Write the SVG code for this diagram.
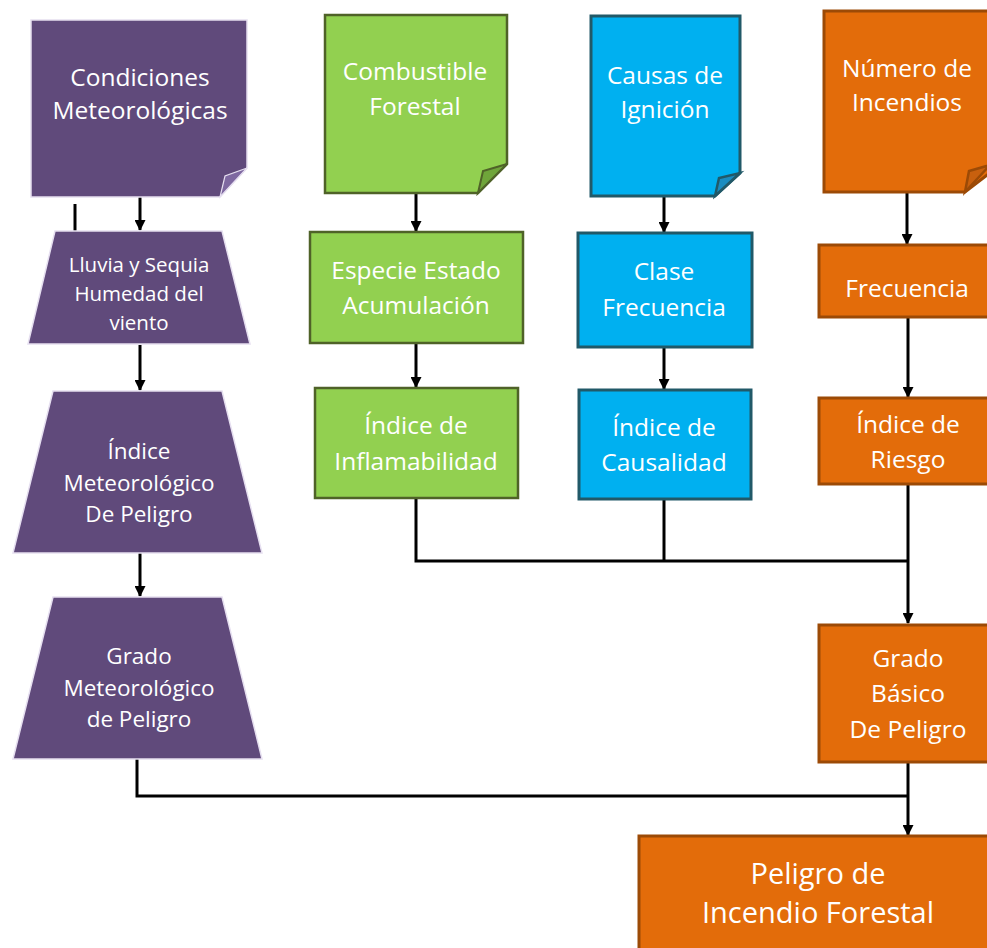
<svg xmlns="http://www.w3.org/2000/svg" width="987" height="948" viewBox="0 0 987 948">
<defs>
<marker id="ah" markerWidth="11" markerHeight="11" refX="10" refY="5.5" orient="auto" markerUnits="userSpaceOnUse" viewBox="0 0 11 11">
<path d="M0,0 L11,5.5 L0,11 Z" fill="#000"/>
</marker>
<style>
.t{font-family:"Open Sans","Liberation Sans",sans-serif;fill:#fff;text-anchor:middle}
.pu{fill:#604A7B;stroke:#E6DFF0;stroke-width:1.5}
.puf{fill:#7E68A0;stroke:#E6DFF0;stroke-width:1.2}
.gr{fill:#92D050;stroke:#4F6228;stroke-width:2.5}
.grf{fill:#6FA53A;stroke:#4F6228;stroke-width:2}
.bl{fill:#00B0F0;stroke:#215968;stroke-width:3}
.blf{fill:#1A8CC0;stroke:#215968;stroke-width:2.5}
.or{fill:#E36C0A;stroke:#9C4A06;stroke-width:3}
.orf{fill:#C8600E;stroke:#9C4A06;stroke-width:2.5}
.c{fill:none;stroke:#000;stroke-width:3}
</style>
</defs>
<rect width="987" height="948" fill="#fff"/>

<g id="connectors">
<line class="c" x1="75" y1="204" x2="75" y2="231"/>
<line class="c" x1="140" y1="197" x2="140" y2="230" marker-end="url(#ah)"/>
<line class="c" x1="140" y1="345" x2="140" y2="390" marker-end="url(#ah)"/>
<line class="c" x1="140" y1="553" x2="140" y2="596" marker-end="url(#ah)"/>
<line class="c" x1="416" y1="193" x2="416" y2="231" marker-end="url(#ah)"/>
<line class="c" x1="416" y1="343" x2="416" y2="387" marker-end="url(#ah)"/>
<line class="c" x1="664" y1="197" x2="664" y2="232" marker-end="url(#ah)"/>
<line class="c" x1="664" y1="347" x2="664" y2="389" marker-end="url(#ah)"/>
<line class="c" x1="907" y1="192" x2="907" y2="244" marker-end="url(#ah)"/>
<line class="c" x1="908" y1="317" x2="908" y2="397" marker-end="url(#ah)"/>
<line class="c" x1="908" y1="484" x2="908" y2="623" marker-end="url(#ah)"/>
<polyline class="c" points="416,498 416,561 908,561"/>
<line class="c" x1="664" y1="499" x2="664" y2="561"/>
<line class="c" x1="908" y1="762" x2="908" y2="835" marker-end="url(#ah)"/>
<polyline class="c" points="137,759 137,796 908,796"/>
</g>

<g id="condiciones">
<path class="pu" d="M31,20 H247 V168 L220,197 H31 Z"/>
<path class="puf" d="M220,197 L225,176 L247,168 Z"/>
<text class="t" font-size="24.5" x="140" y="86">Condiciones</text>
<text class="t" font-size="24.5" x="140" y="119">Meteorológicas</text>
</g>

<g id="lluvia">
<path class="pu" d="M55,231 H222 L250,344 H28 Z"/>
<text class="t" font-size="20.5" x="139" y="272">Lluvia y Sequia</text>
<text class="t" font-size="20.5" x="139" y="301">Humedad del</text>
<text class="t" font-size="20.5" x="139" y="330">viento</text>
</g>

<g id="indice-meteo">
<path class="pu" d="M53,391 H222 L262,553 H13 Z"/>
<text class="t" font-size="22.5" x="139" y="459">Índice</text>
<text class="t" font-size="22.5" x="139" y="491">Meteorológico</text>
<text class="t" font-size="22.5" x="139" y="522">De Peligro</text>
</g>

<g id="grado-meteo">
<path class="pu" d="M53,597 H222 L262,759 H13 Z"/>
<text class="t" font-size="22.5" x="139" y="664">Grado</text>
<text class="t" font-size="22.5" x="139" y="696">Meteorológico</text>
<text class="t" font-size="22.5" x="139" y="727">de Peligro</text>
</g>

<g id="combustible">
<path class="gr" d="M325,15 H507 V164 L478,193 H325 Z"/>
<path class="grf" d="M478,193 L483,171 L507,164 Z"/>
<text class="t" font-size="24.5" x="415" y="80">Combustible</text>
<text class="t" font-size="24.5" x="415" y="115">Forestal</text>
</g>

<g id="especie">
<rect class="gr" x="310" y="232" width="213" height="111"/>
<text class="t" font-size="24.5" x="416" y="279">Especie Estado</text>
<text class="t" font-size="24.5" x="416" y="314">Acumulación</text>
</g>

<g id="inflamabilidad">
<rect class="gr" x="315" y="388" width="203" height="110"/>
<text class="t" font-size="24.5" x="416" y="434">Índice de</text>
<text class="t" font-size="24.5" x="416" y="470">Inflamabilidad</text>
</g>

<g id="causas">
<path class="bl" d="M591,16 H740 V173 L715,196 H591 Z"/>
<path class="blf" d="M715,196 L719,178 L740,173 Z"/>
<text class="t" font-size="24.5" x="665" y="84">Causas de</text>
<text class="t" font-size="24.5" x="665" y="118">Ignición</text>
</g>

<g id="clase">
<rect class="bl" x="578" y="233" width="174" height="114"/>
<text class="t" font-size="24.5" x="664" y="280">Clase</text>
<text class="t" font-size="24.5" x="664" y="316">Frecuencia</text>
</g>

<g id="causalidad">
<rect class="bl" x="579" y="390" width="172" height="109"/>
<text class="t" font-size="24.5" x="664" y="436">Índice de</text>
<text class="t" font-size="24.5" x="664" y="471">Causalidad</text>
</g>

<g id="numero">
<path class="or" d="M824,11 H1000 V165 L965,192 H824 Z"/>
<path class="orf" d="M965,192 L969,171 L990,165 Z"/>
<text class="t" font-size="24.5" x="907" y="77">Número de</text>
<text class="t" font-size="24.5" x="907" y="111">Incendios</text>
</g>

<g id="frecuencia">
<rect class="or" x="819" y="245" width="180" height="72"/>
<text class="t" font-size="24.5" x="907" y="297">Frecuencia</text>
</g>

<g id="riesgo">
<rect class="or" x="819" y="398" width="180" height="86"/>
<text class="t" font-size="24.5" x="908" y="433">Índice de</text>
<text class="t" font-size="24.5" x="908" y="468">Riesgo</text>
</g>

<g id="grado-basico">
<rect class="or" x="819" y="625" width="180" height="137"/>
<text class="t" font-size="24.5" x="908" y="667">Grado</text>
<text class="t" font-size="24.5" x="908" y="702">Básico</text>
<text class="t" font-size="24.5" x="908" y="738">De Peligro</text>
</g>

<g id="peligro">
<rect class="or" x="639" y="836" width="360" height="130"/>
<text class="t" font-size="29" x="818" y="884">Peligro de</text>
<text class="t" font-size="29" x="818" y="923">Incendio Forestal</text>
</g>
</svg>
